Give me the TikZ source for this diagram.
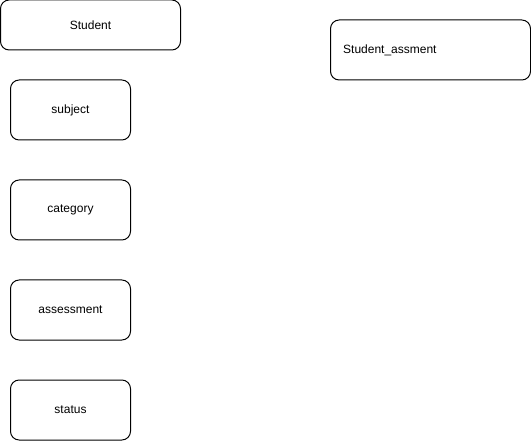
\documentclass[tikz,border=0pt]{standalone}
\usepackage{fontspec}
\setmainfont{Liberation Sans}
\begin{document}
\begin{tikzpicture}[x=0.75pt,y=-0.75pt,line width=0.75pt,font=\fontsize{9}{11}\selectfont,
	tbl/.style={draw,rounded corners=6.5pt,minimum width=90pt,minimum height=45pt,inner sep=0pt}]
			\useasboundingbox (0,0) rectangle (531,441);
			\node[tbl,minimum width=135pt,minimum height=37.5pt] (student) at (90.5,25) {Student};
			\node[tbl,minimum width=150pt,text width=131pt,inner xsep=9.5pt,align=left] (stuass) at (430.5,50) {Student\_assment};
			\node[tbl] (subject) at (70.5,110) {subject};
			\node[tbl] (category) at (70.5,210) {category};
			\node[tbl] (assessment) at (70.5,310) {assessment};
			\node[tbl] (status) at (70.5,410) {status};
		\end{tikzpicture}
\end{document}
